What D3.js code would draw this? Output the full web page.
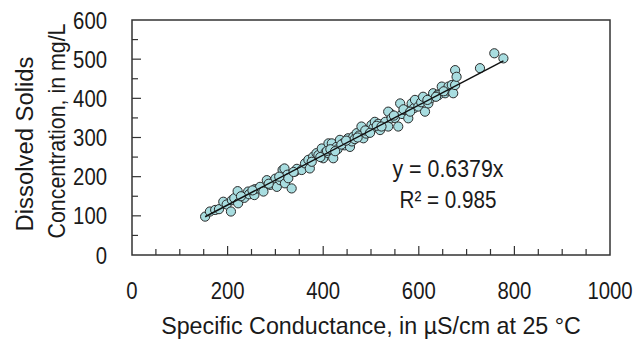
<!DOCTYPE html>
<html><head><meta charset="utf-8">
<script src="https://cdn.jsdelivr.net/npm/d3@7"></script>
<style>
body{margin:0;background:#fff;}
text{font-family:"Liberation Sans","Arial",sans-serif;fill:#1a1a1a;}
</style></head><body>
<svg id="c" width="636" height="339"></svg>
<script>
const conductance = [153,163,174,182,191,198,207,209,214,221,222,235,243,245,256,257,265,268,275,282,289,296,300,303,310,315,319,320,325,327,334,341,345,
355,362,369,372,379,386,390,397,400,405,411,411,418,421,428,430,435,442,445,452,456,460,463,470,475,480,484,490,494,501,505,508,515,519,526,530,536,540,
536,543,550,557,561,565,571,578,585,590,592,599,605,609,613,620,625,630,640,641,648,655,660,662,669,672,676,676,679,728,758,777,
228,252,286,308,338,376,394,408,415,425,438,448,466,472,488,498,512,522,548,568,582,618,636,652];
const solids = [98,111,115,117,136,129,111,140,145,163,132,146,162,155,153,168,170,174,162,191,179,187,195,174,191,217,221,183,205,196,170,213,220,
217,234,243,221,251,260,255,272,247,262,260,285,285,247,276,270,294,285,280,298,276,290,302,311,305,328,298,310,319,332,325,340,335,319,332,340,328,362,
366,349,350,328,387,360,370,349,387,375,396,379,390,404,366,387,400,413,410,408,430,413,420,430,434,413,434,472,455,477,515,502,
150,165,182,200,212,238,250,266,270,265,282,292,296,300,318,312,330,328,356,372,366,396,404,418];
const slope = 0.6379;
const xTicks = [0,200,400,600,800,1000];
const yTicks = [0,100,200,300,400,500,600];
const eqLabels = ["y = 0.6379x","R\u00b2 = 0.985"];

const svg = d3.select("#c");
const L=132,T=20,R=610,B=255;
const x = d3.scaleLinear().domain([0,1000]).range([L,R]);
const y = d3.scaleLinear().domain([0,600]).range([B,T]);
const fs = 24;
const digitW = 11.3;

// place a text at (px,py) with anchor and squeeze it horizontally to a target width
function fitText(g, str, px, py, anchor, width, rot){
  const t = g.append("text").attr("font-size",fs).attr("text-anchor",anchor).text(str);
  const len = t.node().getComputedTextLength();
  const s = width/len;
  t.attr("transform",`translate(${px},${py})${rot?` rotate(${rot})`:""} scale(${s},1)`);
  return t;
}

const xt = d3.range(0,1001,50), yt = d3.range(0,601,50);
svg.append("g").selectAll("line").data(xt.filter(v=>v>0&&v<1000)).join("line")
 .attr("x1",d=>x(d)).attr("x2",d=>x(d)).attr("y1",B).attr("y2",d=>B-(d%200===0?9:6))
 .attr("stroke","#333").attr("stroke-width",1.2);
svg.append("g").selectAll("line").data(yt.filter(v=>v>0&&v<600)).join("line")
 .attr("y1",d=>y(d)).attr("y2",d=>y(d)).attr("x1",L).attr("x2",d=>L+(d%100===0?9:6))
 .attr("stroke","#333").attr("stroke-width",1.2);

svg.append("rect").attr("x",L).attr("y",T).attr("width",R-L).attr("height",B-T)
 .attr("fill","none").attr("stroke","#333").attr("stroke-width",1.5);

const gx = svg.append("g");
xTicks.forEach(d=>fitText(gx, String(d), x(d), 299, "middle", String(d).length*digitW));
const gy = svg.append("g");
yTicks.forEach(d=>fitText(gy, String(d), 107, y(d)+8.5, "end", String(d).length*digitW));

const gt = svg.append("g");
fitText(gt, "Specific Conductance, in \u00b5S/cm at 25 \u00b0C", 371, 334, "middle", 420);
fitText(gt, "Dissolved Solids", 33, 144, "middle", 175, -90);
fitText(gt, "Concentration, in mg/L", 65, 131, "middle", 215, -90);

const pts = conductance.map((c,i)=>({c,s:solids[i]}));
svg.append("g").selectAll("circle").data(pts).join("circle")
 .attr("cx",d=>x(d.c)).attr("cy",d=>y(d.s)).attr("r",4.6)
 .attr("fill","#a8dde0").attr("stroke","#2a2a2a").attr("stroke-width",1);

const xmin=d3.min(conductance), xmax=d3.max(conductance);
svg.append("line").attr("x1",x(xmin)).attr("y1",y(slope*xmin)).attr("x2",x(xmax)).attr("y2",y(slope*xmax))
 .attr("stroke","#111").attr("stroke-width",1.5);

const eqLen = [111,97];
const ge = svg.append("g");
eqLabels.forEach((d,i)=>fitText(ge, d, 448, 177+i*31, "middle", eqLen[i]));
</script></body></html>
